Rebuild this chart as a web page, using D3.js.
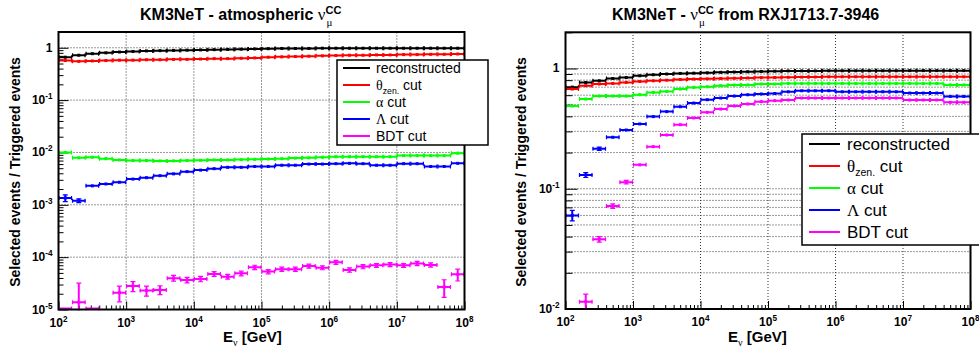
<!DOCTYPE html>
<html><head><meta charset="utf-8">
<script src="https://cdn.jsdelivr.net/npm/d3@7"></script>
<style>
body{margin:0;background:#fff}
svg{font-family:"Liberation Sans",Arial,Helvetica,sans-serif}
</style>
</head><body>
<svg id="c" width="979" height="363"></svg>
<script>
// ---------- DATA ----------
const binCenterLog = [2.1,2.3,2.5,2.7,2.9,3.1,3.3,3.5,3.7,3.9,4.1,4.3,4.5,4.7,4.9,5.1,5.3,5.5,5.7,5.9,6.1,6.3,6.5,6.7,6.9,7.1,7.3,7.5,7.7,7.9];
const binHalfWidthLog = 0.1;
const xTickExp = [2,3,4,5,6,7,8];

const seriesNames = ["reconstructed","θzen. cut","α cut","Λ cut","BDT cut"];

// Left panel: atmospheric nu_mu CC
const atmReco   = [0.66,0.72,0.77,0.80,0.83,0.85,0.87,0.88,0.89,0.90,0.91,0.92,0.93,0.94,0.95,0.96,0.97,0.97,0.97,0.98,0.98,0.98,0.98,0.98,0.98,0.98,0.98,0.98,0.98,0.98];
const atmZen    = [0.57,0.55,0.56,0.57,0.58,0.58,0.59,0.59,0.60,0.60,0.61,0.62,0.62,0.63,0.64,0.66,0.67,0.68,0.69,0.70,0.71,0.72,0.72,0.73,0.73,0.74,0.74,0.75,0.75,0.76];
const atmAlpha  = [0.0100,0.0079,0.0081,0.0076,0.0072,0.0070,0.0070,0.0069,0.0069,0.0070,0.0071,0.0072,0.0072,0.0073,0.0074,0.0075,0.0076,0.0078,0.0079,0.0081,0.0083,0.0083,0.0083,0.0083,0.0083,0.0087,0.0087,0.0087,0.0087,0.0097];
const atmLambda = [0.00135,0.0012,0.0023,0.0025,0.0027,0.0031,0.0033,0.0036,0.0039,0.0043,0.0046,0.0049,0.0052,0.0052,0.0054,0.0054,0.0057,0.0057,0.0060,0.0060,0.0061,0.0062,0.0061,0.0057,0.0057,0.0061,0.0061,0.0054,0.0054,0.0062];
const atmLambdaErr = [0.0002,0.0001,0,0,0,0,0,0,0,0,0,0,0,0,0,0,0,0,0,0,0,0,0,0,0,0,0,0,0,0];
const atmBDT    = [0,1.38e-5,0,null,2.1e-5,2.8e-5,2.3e-5,2.37e-5,3.97e-5,3.67e-5,3.84e-5,4.78e-5,4.24e-5,4.9e-5,6.4e-5,5.3e-5,5.9e-5,5.9e-5,6.76e-5,6.3e-5,8.0e-5,5.7e-5,6.6e-5,6.97e-5,7.25e-5,6.97e-5,7.6e-5,7.1e-5,2.7e-5,4.7e-5];
const atmBDTErr = [0,1.8e-5,0,0,0.7e-5,0.6e-5,0.5e-5,0.45e-5,0.5e-5,0.45e-5,0.45e-5,0.5e-5,0.45e-5,0.5e-5,0.6e-5,0.5e-5,0.55e-5,0.55e-5,0.6e-5,0.55e-5,0.7e-5,0.55e-5,0.6e-5,0.6e-5,0.65e-5,0.6e-5,0.7e-5,0.65e-5,1.0e-5,1.2e-5];

// Right panel: nu_mu CC from RXJ1713.7-3946
const rxReco   = [0.70,0.765,0.79,0.826,0.842,0.87,0.887,0.90,0.91,0.915,0.92,0.93,0.935,0.94,0.945,0.95,0.955,0.955,0.955,0.957,0.957,0.957,0.957,0.957,0.957,0.96,0.96,0.96,0.96,0.96];
const rxZen    = [0.675,0.719,0.743,0.751,0.766,0.78,0.79,0.80,0.81,0.817,0.82,0.826,0.83,0.835,0.84,0.842,0.845,0.848,0.85,0.853,0.853,0.853,0.853,0.853,0.853,0.853,0.853,0.853,0.853,0.853];
const rxAlpha  = [0.488,0.557,0.59,0.59,0.59,0.605,0.632,0.645,0.675,0.696,0.705,0.719,0.728,0.73,0.743,0.743,0.751,0.751,0.751,0.751,0.751,0.751,0.751,0.751,0.751,0.751,0.751,0.751,0.73,0.73];
const rxLambda = [0.060,0.130,0.215,0.268,0.308,0.346,0.398,0.438,0.481,0.516,0.55,0.568,0.59,0.605,0.614,0.62,0.64,0.653,0.653,0.653,0.64,0.64,0.64,0.64,0.64,0.625,0.625,0.625,0.586,0.586];
const rxLambdaErr = [0.006,0.006,0.007,0,0,0,0,0,0,0,0,0,0,0,0,0,0,0,0,0,0,0,0,0,0,0,0,0,0,0];
const rxBDT    = [null,0.0115,0.038,0.0718,0.1135,0.158,0.224,0.28,0.341,0.388,0.432,0.46,0.488,0.507,0.53,0.54,0.547,0.568,0.568,0.568,0.568,0.568,0.568,0.568,0.568,0.547,0.547,0.547,0.523,0.523];
const rxBDTErr = [0,0.0018,0.002,0.003,0.004,0,0,0,0,0,0,0,0,0,0,0,0,0,0,0,0,0,0,0,0,0,0,0,0,0];

// ---------- STYLE ----------
const colors = ["#000000","#ff0000","#00ff00","#0000ff","#ff00ff"];
const svg = d3.select("#c");
const greekFont = "'Liberation Serif','DejaVu Serif',serif";

function supLabel(sel, exp, x, y, anchor, size) {
  const t = sel.append("text").attr("x", x).attr("y", y).attr("text-anchor", anchor)
    .attr("font-weight", "bold").attr("font-size", size);
  if (exp === 0) { t.text("1"); return; }
  t.append("tspan").text("10");
  t.append("tspan").attr("dy", -5).attr("font-size", size * 0.68).text(exp);
}

function drawPanel(p) {
  const g = svg.append("g");
  const x = d3.scaleLog().domain([1e2, 1e8]).range([p.x0, p.x1]);
  const y = d3.scaleLog().domain(p.yDomain).range([p.y0, p.y1]);
  const xMaj = xTickExp.map(e => Math.pow(10, e));
  const xMin = [];
  for (let e = 2; e < 8; e++) for (let k = 2; k <= 9; k++) xMin.push(k * Math.pow(10, e));
  const yMaj = p.yExp.map(e => Math.pow(10, e));
  const yMin = [];
  for (let e = p.yExp[0]; e <= 0; e++) for (let k = 2; k <= 9; k++) {
    const v = k * Math.pow(10, e);
    if (v <= p.yDomain[1] * 1.0001) yMin.push(v);
  }

  // grid
  const grid = g.append("g").attr("stroke", "#333").attr("stroke-width", 1).attr("stroke-dasharray", "1,2");
  grid.selectAll(".vg").data(xMaj.slice(1, -1)).join("line")
    .attr("x1", d => x(d)).attr("x2", d => x(d)).attr("y1", p.y0).attr("y2", p.y1);
  const hg = p.minorGrid ? yMaj.concat(yMin) : yMaj;
  grid.selectAll(".hg").data(hg.filter(v => v > p.yDomain[0] && v < p.yDomain[1])).join("line")
    .attr("x1", p.x0).attr("x2", p.x1).attr("y1", d => y(d)).attr("y2", d => y(d));

  // axes ticks (inward)
  const ax = g.append("g").attr("transform", `translate(0,${p.y0})`);
  ax.append("g").call(d3.axisBottom(x).tickValues(xMin).tickSize(-4).tickFormat(""));
  ax.append("g").call(d3.axisBottom(x).tickValues(xMaj).tickSize(-8).tickFormat(""));
  const ay = g.append("g").attr("transform", `translate(${p.x0},0)`);
  ay.append("g").call(d3.axisLeft(y).tickValues(yMin).tickSize(-p.minorLen).tickFormat(""));
  ay.append("g").call(d3.axisLeft(y).tickValues(yMaj).tickSize(-p.majorLen).tickFormat(""));
  g.selectAll(".domain").remove();
  g.selectAll(".tick line").attr("stroke", "#000").attr("stroke-width", 1);

  // tick labels
  xTickExp.forEach(e => supLabel(g, e, x(Math.pow(10, e)), p.y0 + 17, "middle", 12));
  p.yExp.forEach(e => supLabel(g, e, p.x0 - p.labelGap, y(Math.pow(10, e)) + 4, "end", 12));

  // data
  const clipId = "clip" + p.id;
  svg.append("clipPath").attr("id", clipId).append("rect")
    .attr("x", p.x0).attr("y", p.y1).attr("width", p.x1 - p.x0).attr("height", p.y0 - p.y1 + 1);
  const dg = g.append("g").attr("clip-path", `url(#${clipId})`);
  p.series.forEach((s, si) => {
    const col = colors[si];
    const sg = dg.append("g").attr("stroke", col).attr("fill", col).attr("stroke-width", 2);
    s.vals.forEach((v, i) => {
      if (v === null) return;
      const c = binCenterLog[i];
      const xl = x(Math.pow(10, c - binHalfWidthLog)), xr = x(Math.pow(10, c + binHalfWidthLog)), xc = x(Math.pow(10, c));
      const yv = v > 0 ? y(v) : p.y0 - 1;
      sg.append("line").attr("x1", xl).attr("x2", xr).attr("y1", yv).attr("y2", yv);
      sg.append("line").attr("x1", xl + 0.5).attr("x2", xl + 0.5).attr("y1", yv - 2).attr("y2", yv + 2).attr("stroke-width", 1.2);
      sg.append("line").attr("x1", xr - 0.5).attr("x2", xr - 0.5).attr("y1", yv - 2).attr("y2", yv + 2).attr("stroke-width", 1.2);
      const e = s.err ? s.err[i] : 0;
      if (e > 0) {
        const yt = y(v + e);
        const yb = (v - e) > p.yDomain[0] ? y(v - e) : p.y0 + 2;
        sg.append("line").attr("x1", xc).attr("x2", xc).attr("y1", yt).attr("y2", yb);
        sg.append("line").attr("x1", xc - 2.5).attr("x2", xc + 2.5).attr("y1", yt).attr("y2", yt).attr("stroke-width", 1.2);
        sg.append("line").attr("x1", xc - 2.5).attr("x2", xc + 2.5).attr("y1", yb).attr("y2", yb).attr("stroke-width", 1.2);
      }
      if (v > 0) sg.append("rect").attr("x", xc - 1.5).attr("y", yv - 1.5).attr("width", 3).attr("height", 3).attr("stroke", "none");
    });
  });

  // frame
  g.append("rect").attr("x", p.x0).attr("y", p.y1).attr("width", p.x1 - p.x0).attr("height", p.y0 - p.y1)
    .attr("fill", "none").attr("stroke", "#000").attr("stroke-width", 2);

  // axis titles
  const xt = g.append("text").attr("x", p.xTitleX).attr("y", 342).attr("font-weight", "bold").attr("font-size", 15);
  xt.append("tspan").text("E");
  xt.append("tspan").attr("dy", 4).attr("font-size", 10).attr("font-weight", "normal").attr("font-family", greekFont).text("ν");
  xt.append("tspan").attr("dy", -4).text(" [GeV]");
  g.append("text").attr("transform", `translate(${p.yTitleX},172) rotate(-90)`).attr("text-anchor", "middle")
    .attr("font-weight", "bold").attr("font-size", 14).text("Selected events / Triggered events");

  // title
  const tt = g.append("text").attr("x", p.titleX).attr("y", 20).attr("font-weight", "bold").attr("font-size", 16);
  tt.append("tspan").text(p.titlePre);
  tt.append("tspan").attr("font-family", greekFont).attr("font-weight", "normal").attr("font-size", 17).text("ν");
  tt.append("tspan").attr("dy", -6).attr("font-size", 11).text("CC");
  if (p.titlePost) tt.append("tspan").attr("dy", 6).text(p.titlePost);
  const idx = (p.titlePre + "ν").length;
  const pos = tt.node().getStartPositionOfChar(idx);
  g.append("text").attr("x", pos.x + 1).attr("y", 26).attr("font-size", 11).attr("font-family", greekFont).text("μ");

  // legend
  const L = p.legend;
  const lg = g.append("g");
  lg.append("rect").attr("x", L.x0).attr("y", L.y0).attr("width", L.x1 - L.x0).attr("height", L.y1 - L.y0)
    .attr("fill", "#fff").attr("stroke", "#000").attr("stroke-width", 1.5);
  seriesNames.forEach((name, i) => {
    const yy = L.rows[i];
    lg.append("line").attr("x1", L.lx0).attr("x2", L.lx1).attr("y1", yy).attr("y2", yy)
      .attr("stroke", colors[i]).attr("stroke-width", 2);
    const t = lg.append("text").attr("x", L.tx).attr("y", yy + L.fs * 0.36).attr("font-size", L.fs);
    if (i === 0 || i === 4) t.text(name);
    else if (i === 1) {
      t.append("tspan").attr("font-family", greekFont).text("θ");
      t.append("tspan").attr("dy", L.fs * 0.25).attr("font-size", L.fs * 0.62).text("zen.");
      t.append("tspan").attr("dy", -L.fs * 0.25).text(" cut");
    } else {
      t.append("tspan").attr("font-family", greekFont).text(name[0]);
      t.append("tspan").text(name.slice(1));
    }
  });
}

drawPanel({
  id: "L", x0: 58.5, x1: 464.5, y0: 309.5, y1: 32, yDomain: [1e-5, 2], yExp: [-5, -4, -3, -2, -1, 0],
  minorGrid: false, minorLen: 5, majorLen: 10, labelGap: 6,
  xTitleX: 223, yTitleX: 20, titleX: 140, titlePre: "KM3NeT - atmospheric ", titlePost: null,
  series: [{vals: atmReco}, {vals: atmZen}, {vals: atmAlpha}, {vals: atmLambda, err: atmLambdaErr}, {vals: atmBDT, err: atmBDTErr}],
  legend: {x0: 337, y0: 60, x1: 488, y1: 145, rows: [68, 85, 102, 119, 136], lx0: 343, lx1: 370, tx: 376, fs: 14}
});
drawPanel({
  id: "R", x0: 565.5, x1: 970.5, y0: 309, y1: 32.3, yDomain: [1e-2, 2], yExp: [-2, -1, 0],
  minorGrid: true, minorLen: 7, majorLen: 12, labelGap: 6,
  xTitleX: 728, yTitleX: 526, titleX: 612, titlePre: "KM3NeT - ", titlePost: " from RXJ1713.7-3946",
  series: [{vals: rxReco}, {vals: rxZen}, {vals: rxAlpha}, {vals: rxLambda, err: rxLambdaErr}, {vals: rxBDT, err: rxBDTErr}],
  legend: {x0: 802, y0: 134, x1: 981, y1: 245, rows: [144, 166, 188, 210, 232], lx0: 809, lx1: 840, tx: 847, fs: 17}
});
</script>
</body></html>
